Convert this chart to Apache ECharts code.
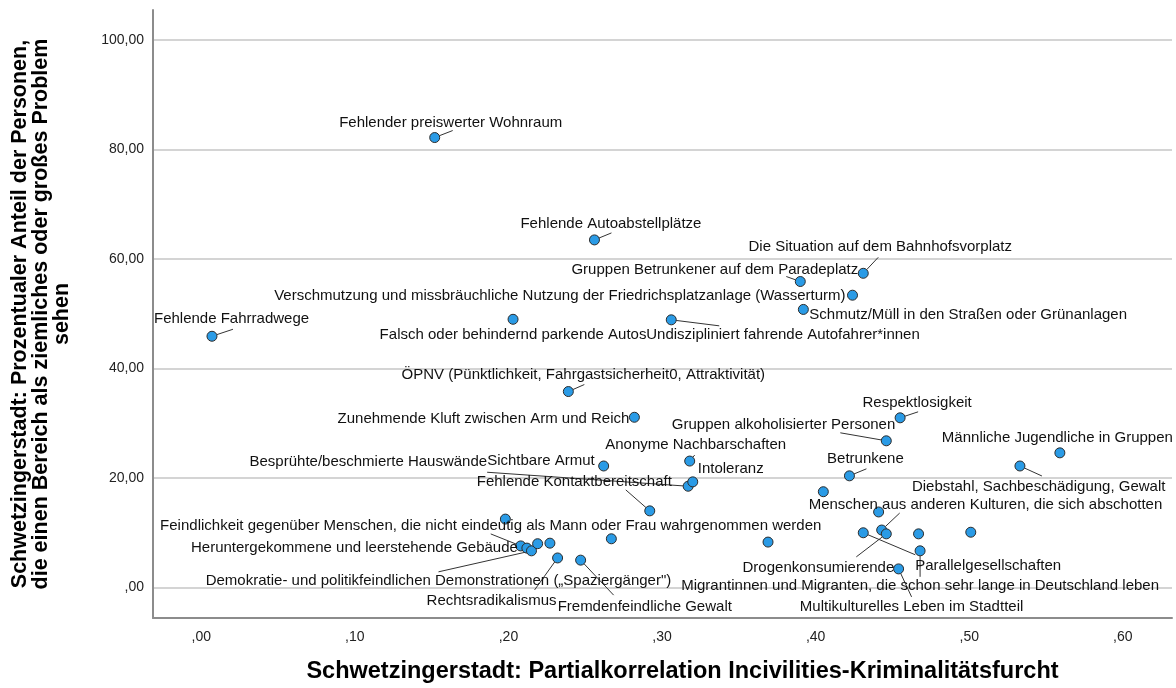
<!DOCTYPE html>
<html>
<head>
<meta charset="utf-8">
<script src="https://cdn.jsdelivr.net/npm/echarts@6/dist/echarts.min.js"></script>
<style>
  html, body { margin: 0; padding: 0; background: #fff; }
  #chart { width: 1176px; height: 688px; }
</style>
</head>
<body>
<div id="chart"></div>
<script>
// Problembereiche (leer = Punkt ohne Beschriftung)
const names = [
  'Fehlender preiswerter Wohnraum',
  'Fehlende Autoabstellplätze',
  'Die Situation auf dem Bahnhofsvorplatz',
  'Gruppen Betrunkener auf dem Paradeplatz',
  'Verschmutzung und missbräuchliche Nutzung der Friedrichsplatzanlage (Wasserturm)',
  'Schmutz/Müll in den Straßen oder Grünanlagen',
  'Fehlende Fahrradwege',
  'Falsch oder behindernd parkende Autos',
  'Undiszipliniert fahrende Autofahrer*innen',
  'ÖPNV (Pünktlichkeit, Fahrgastsicherheit0, Attraktivität)',
  'Zunehmende Kluft zwischen Arm und Reich',
  'Respektlosigkeit',
  'Gruppen alkoholisierter Personen',
  'Männliche Jugendliche in Gruppen',
  'Anonyme Nachbarschaften',
  'Sichtbare Armut',
  'Besprühte/beschmierte Hauswände',
  'Intoleranz',
  'Betrunkene',
  'Diebstahl, Sachbeschädigung, Gewalt',
  'Fehlende Kontaktbereitschaft',
  'Menschen aus anderen Kulturen, die sich abschotten',
  'Feindlichkeit gegenüber Menschen, die nicht eindeutig als Mann oder Frau wahrgenommen werden',
  'Heruntergekommene und leerstehende Gebäude',
  'Demokratie- und politikfeindlichen Demonstrationen („Spaziergänger")',
  'Rechtsradikalismus',
  'Fremdenfeindliche Gewalt',
  'Drogenkonsumierende',
  'Parallelgesellschaften',
  'Migrantinnen und Migranten, die schon sehr lange in Deutschland leben',
  'Multikulturelles Leben im Stadtteil',
  '', '', '', '', '', '', '', '', ''
]

// Partialkorrelation Incivilities-Kriminalitätsfurcht
const correlation = [
  0.152, 0.256, 0.431, 0.390, 0.424, 0.392, 0.007, 0.203, 0.306, 0.239,
  0.282, 0.455, 0.446, 0.559, 0.318, 0.262, 0.317, 0.320, 0.422, 0.533,
  0.292, 0.443, 0.208, 0.212, 0.215, 0.232, 0.247, 0.446, 0.431, 0.468,
  0.454, 0.405, 0.441, 0.467, 0.501, 0.369, 0.267, 0.198, 0.219, 0.227
]

// Prozentualer Anteil "ziemliches oder großes Problem"
const percentProblem = [
  82.2, 63.5, 57.4, 55.9, 53.4, 50.8, 45.9, 49.0, 48.9, 35.8,
  31.1, 31.0, 26.8, 24.6, 23.1, 22.2, 18.5, 19.3, 20.4, 22.2,
  14.0, 10.5, 7.6, 7.2, 6.7, 5.4, 5.0, 9.8, 10.0, 6.7,
  3.4, 17.5, 13.8, 9.8, 10.1, 8.3, 8.9, 12.5, 8.0, 8.1
]

const xTicks = [0, 0.1, 0.2, 0.3, 0.4, 0.5, 0.6]
const yTicks = [0, 20, 40, 60, 80, 100]

// Lage der Beschriftung zum Punkt (px): [Ausrichtung, dx, dy]
const labelPlacement = [
  ['center', 16, -15], ['left', -74, -16], ['center', 17, -26], ['right', 58, -12],
  ['right', -7, 1], ['left', 6, 5], ['left', -58, -17], ['center', 0, 16],
  ['left', -25, 15], ['center', 15, -17], ['right', -5, 2], ['center', 17, -15],
  ['right', 9, -16], ['left', -118, -15], ['center', 6, -16], ['right', -9, -5],
  ['right', -201, -24], ['left', 5, -13], ['center', 16, -17], ['left', -108, 21],
  ['left', -173, -29], ['left', -73, -25], ['center', -30, -20], ['right', -9, 0],
  ['center', -93, 30], ['right', -1, 43], ['left', -23, 47], ['right', 8, 34],
  ['left', 52, 33], ['center', 0, 35], ['center', 13, 38]
]

// Ende der Verbindungslinie relativ zum Punkt (px), null = keine Linie
const leaderEnds = [
  [18, -7], [17, -7], [15, -16], [-14, -5], null, null, [21, -7], null,
  [48, 6], [16, -7], null, [18, -6], [-46, -8], null, [5, -6], null,
  [-201, -14], null, [17, -7], [22, 10], [-24, -21], [18, -17], [-30, -12], null,
  [-93, 21], [-23, 32], [33, 35], [-30, 23], [52, 22], [0, 26], [13, 28]
]

const points = correlation.map(function (x, i) {
  return {
    value: [x, percentProblem[i]],
    name: names[i],
    label: { show: !!names[i] }
  }
})

const leaderData = []
leaderEnds.forEach(function (e, i) {
  if (e) leaderData.push([correlation[i], percentProblem[i], i])
})

const chart = echarts.init(document.getElementById('chart'))

chart.setOption({
  animation: false,
  textStyle: { fontFamily: 'Liberation Sans, Arial, sans-serif' },
  grid: {
    left: 153,
    right: 4,
    top: 10,
    bottom: 70,
    containLabel: false,
    outerBoundsMode: 'none'
  },
  xAxis: {
    type: 'value',
    min: -0.0314,
    max: 0.632,
    name: 'Schwetzingerstadt: Partialkorrelation Incivilities-Kriminalitätsfurcht',
    nameLocation: 'middle',
    nameGap: 42,
    nameTextStyle: { fontSize: 23.5, fontWeight: 'bold', color: '#000', padding: [0, 0, 0, 40] },
    axisLine: { show: true, onZero: false, lineStyle: { color: '#8c8c8c', width: 2 } },
    axisTick: { show: false, customValues: xTicks },
    axisLabel: {
      customValues: xTicks,
      fontSize: 14,
      color: '#222',
      margin: 12,
      formatter: function (v) { return v.toFixed(2).replace('0.', ',') }
    },
    splitLine: { show: false }
  },
  yAxis: {
    type: 'value',
    min: -5.57,
    max: 105.5,
    name: 'Schwetzingerstadt: Prozentualer Anteil der Personen,\ndie einen Bereich als ziemliches oder großes Problem\nsehen',
    nameLocation: 'middle',
    nameGap: 80,
    nameTextStyle: { fontSize: 21.5, fontWeight: 'bold', color: '#000', lineHeight: 21, align: 'center' },
    axisLine: { show: true, onZero: false, lineStyle: { color: '#8c8c8c', width: 2 } },
    axisTick: { show: true, length: 0, customValues: yTicks },
    axisLabel: {
      customValues: yTicks,
      fontSize: 14,
      color: '#222',
      margin: 9,
      formatter: function (v) { return v === 0 ? ',00' : v.toFixed(2).replace('.', ',') }
    },
    splitLine: { show: true, lineStyle: { color: '#d4d4d4', width: 2 } }
  },
  series: [{
    type: 'custom',
    z: 1,
    silent: true,
    encode: { x: 0, y: 1 },
    data: leaderData,
    renderItem: function (params, api) {
      const i = api.value(2)
      const c = api.coord([api.value(0), api.value(1)])
      const e = leaderEnds[i]
      const d = Math.sqrt(e[0] * e[0] + e[1] * e[1])
      const r = 5
      return {
        type: 'line',
        shape: {
          x1: c[0] + e[0] / d * r,
          y1: c[1] + e[1] / d * r,
          x2: c[0] + e[0],
          y2: c[1] + e[1]
        },
        style: { stroke: '#333', lineWidth: 1 }
      }
    }
  }, {
    type: 'scatter',
    z: 2,
    symbolSize: 10,
    itemStyle: { color: '#2a9be6', borderColor: '#2b2b2b', borderWidth: 1, opacity: 1 },
    label: {
      show: true,
      position: 'inside',
      formatter: '{b}',
      fontSize: 15,
      color: '#111'
    },
    labelLayout: function (p) {
      const place = labelPlacement[p.dataIndex]
      if (!place) return {}
      return { align: place[0], verticalAlign: 'middle', dx: place[1], dy: place[2] }
    },
    emphasis: { disabled: true },
    data: points
  }]
})
</script>
</body>
</html>
